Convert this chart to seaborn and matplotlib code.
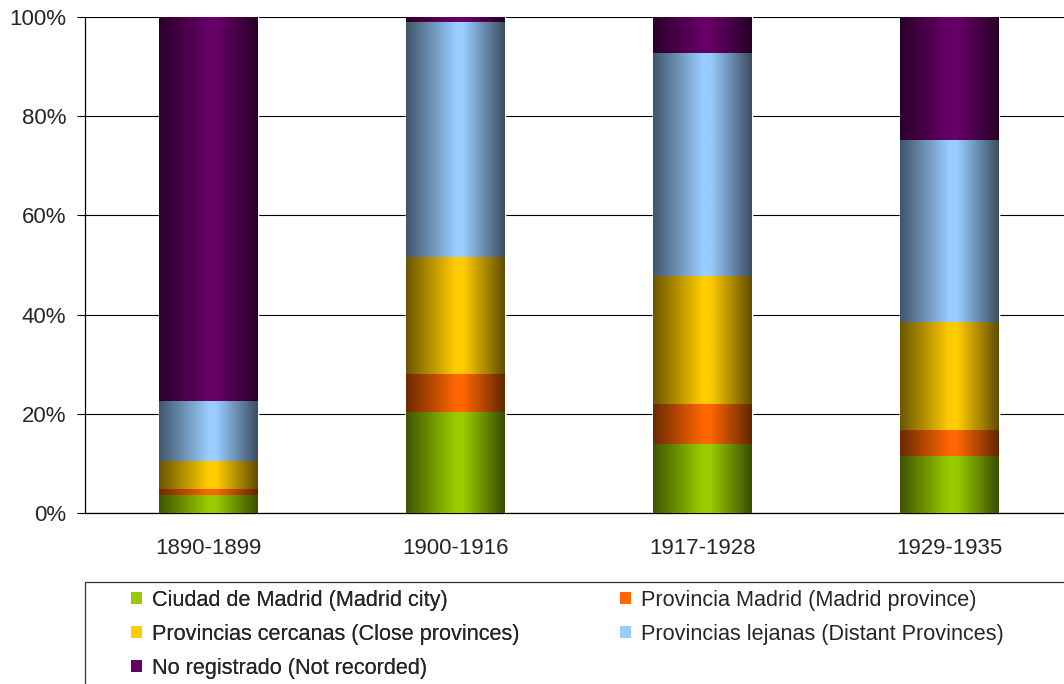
"""Origin of residents by period, 100% stacked bars in the old Excel look."""

import matplotlib
matplotlib.use("Agg")

import matplotlib.pyplot as plt
import numpy as np
import pandas as pd
import seaborn as sns
from matplotlib.colors import to_rgb
from matplotlib.patches import Patch, Rectangle
from matplotlib.ticker import FuncFormatter

PERIODS = ["1890-1899", "1900-1916", "1917-1928", "1929-1935"]
CIUDAD = [3.6, 20.2, 13.8, 11.3]
PROVINCIA = [1.1, 7.7, 8.1, 5.3]
CERCANAS = [5.7, 23.6, 25.8, 21.8]
LEJANAS = [12.1, 47.4, 44.9, 36.7]
NO_REG = [77.5, 1.1, 7.4, 24.9]

LABELS = [
  "Ciudad de Madrid (Madrid city)",
  "Provincia Madrid (Madrid province)",
  "Provincias cercanas (Close provinces)",
  "Provincias lejanas (Distant Provinces)",
  "No registrado (Not recorded)",
]
COLORS = ["#99CC00", "#FF6600", "#FFCC00", "#99CCFF", "#660066"]

FONT = ["Liberation Sans", "DejaVu Sans"]
FS = 16
LEGEND_FS = 15.6


def gradient(color: str, n: int = 200) -> np.ndarray:
  # horizontal shading: dark edges, bright band a little right of centre
  pos = np.linspace(0, 1, n)
  shade = np.interp(pos, [0.0, 0.5, 0.58, 1.0], [0.42, 1.0, 1.0, 0.38])
  rgb = np.array(to_rgb(color))
  return (shade[:, None] * rgb[None, :])[None, :, :]


def main() -> None:
  sns.set_style("white")
  plt.rcParams["font.family"] = FONT

  df = pd.DataFrame({
    "period" : PERIODS,
    LABELS[0] : CIUDAD,
    LABELS[1] : PROVINCIA,
    LABELS[2] : CERCANAS,
    LABELS[3] : LEJANAS,
    LABELS[4] : NO_REG,
  })
  cum = df[LABELS].cumsum(axis = 1)

  fig = plt.figure(figsize = (10.64, 6.84), dpi = 100)
  ax = fig.add_axes([85 / 1064, 1 - 513 / 684, 988 / 1064, 496 / 684])

  # tallest cumulative layer first, each smaller one painted over it
  for i in range(len(LABELS) - 1, -1, -1) :
    before = len(ax.patches)
    sns.barplot(x = df["period"], y = cum[LABELS[i]], ax = ax, color = COLORS[i],
                width = 0.4, errorbar = None, order = PERIODS, zorder = 2)
    for p in ax.patches[before:] :
      x0, w, h = p.get_x(), p.get_width(), p.get_height()
      ax.imshow(gradient(COLORS[i]), extent = [x0, x0 + w, 0, h], aspect = "auto",
                zorder = 10 + (len(LABELS) - i), interpolation = "bilinear")

  ax.set_xlim(-0.5, 3.5)
  ax.set_ylim(0, 100)
  ax.set_xlabel("")
  ax.set_ylabel("")

  ax.set_yticks(np.arange(0, 101, 20))
  ax.yaxis.set_major_formatter(FuncFormatter(lambda v, _ : f"{v:.0f}%"))
  ax.grid(True, axis = "y", color = "#000000", linewidth = 0.8)
  ax.set_axisbelow(True)

  ax.set_xticks([-0.5, 0.5, 1.5, 2.5, 3.5])
  ax.set_xticklabels([])
  ax.set_xticks(range(len(PERIODS)), minor = True)
  ax.set_xticklabels(PERIODS, minor = True)
  ax.tick_params(axis = "x", which = "major", direction = "out", length = 5, width = 0.8, color = "black")
  ax.tick_params(axis = "x", which = "minor", length = 0, pad = 18, labelsize = FS)
  ax.tick_params(axis = "y", direction = "out", length = 5.5, width = 0.8, color = "black",
                 pad = 8, labelsize = FS, left = True)

  for side in ["top", "right"] :
    ax.spines[side].set_visible(False)
  for side in ["left", "bottom"] :
    ax.spines[side].set_color("black")
    ax.spines[side].set_linewidth(0.9)

  # legend box runs off the right and bottom edges
  fig.patches.append(Rectangle((85 / 1064, -0.05), 1.0, 0.05 + (684 - 582) / 684,
                               transform = fig.transFigure, facecolor = "white",
                               edgecolor = "#333333", linewidth = 0.9))

  handles = [Patch(facecolor = c, edgecolor = "none") for c in COLORS]
  common = dict(frameon = False, fontsize = LEGEND_FS, handlelength = 0.5, handleheight = 0.5,
                handletextpad = 0.45, labelspacing = 0.6, borderpad = 0, borderaxespad = 0,
                loc = "upper left")
  left = fig.legend([handles[0], handles[2], handles[4]], [LABELS[0], LABELS[2], LABELS[4]],
                    bbox_to_anchor = (131 / 1064, 1 - 590 / 684), **common)
  fig.legend([handles[1], handles[3]], [LABELS[1], LABELS[3]],
             bbox_to_anchor = (620 / 1064, 1 - 590 / 684), **common)
  fig.add_artist(left)

  fig.savefig("out.png", dpi = 100)
  plt.close(fig)


if __name__ == "__main__" :
  main()
